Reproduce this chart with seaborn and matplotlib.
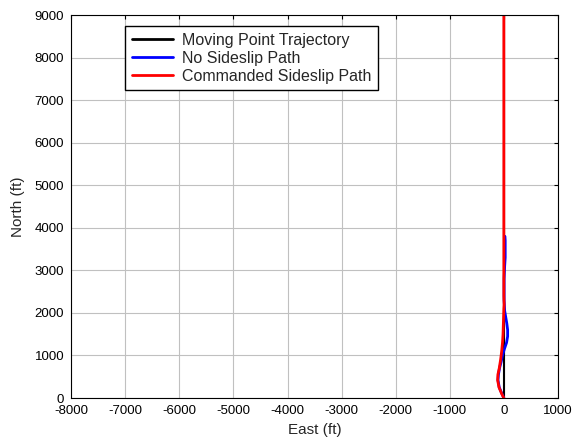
import matplotlib
matplotlib.use("Agg")
import matplotlib.pyplot as plt
import seaborn as sns
import pandas as pd

# Moving point trajectory (straight north along East = 0)
traj_east = [0, 0, 0, 0]
traj_north = [0, 2000, 5000, 9000]

# Path flown with no sideslip
nos_east = [0, -35, -85, -108, -100, -80, -50, -25, 10, 50, 70, 70, 55, 35, 15, 5, 5, 15, 25, 25, 20]
nos_north = [0, 100, 250, 420, 550, 700, 850, 1000, 1150, 1300, 1450, 1600, 1750, 1900, 2050, 2300, 2800, 3100, 3300, 3700, 3800]

# Path flown with commanded sideslip
cmd_east = [0, -40, -90, -115, -110, -85, -60, -40, -25, -15, -10, -5, 0, 5, 0, 0]
cmd_north = [0, 100, 250, 420, 550, 700, 900, 1100, 1300, 1500, 1700, 1900, 2100, 2200, 2400, 9000]

labels = ["Moving Point Trajectory", "No Sideslip Path", "Commanded Sideslip Path"]
colors = ["#000000", "#0000ff", "#ff0000"]

x_ticks = list(range(-8000, 1001, 1000))
y_ticks = list(range(0, 9001, 1000))

sns.set_style("white")
plt.rcParams["font.family"] = ["Liberation Sans", "DejaVu Sans"]

fig = plt.figure(figsize=(5.74, 4.44), dpi=100)
ax = fig.add_axes([0.124, 0.1036, 0.848, 0.8626])

frames = []
for lab, e, n in zip(labels, [traj_east, nos_east, cmd_east], [traj_north, nos_north, cmd_north]):
    frames.append(pd.DataFrame({"East": e, "North": n, "Path": lab}))
df = pd.concat(frames, ignore_index=True)

widths = [1.5, 2.0, 2.0]
for lab, col, lw in zip(labels, colors, widths):
    sub = df[df["Path"] == lab]
    sns.lineplot(data=sub, x="East", y="North", sort=False, estimator=None,
                 color=col, linewidth=lw, label=lab, ax=ax)

ax.set_xlim(-8000, 1000)
ax.set_ylim(0, 9000)
ax.set_xticks(x_ticks)
ax.set_yticks(y_ticks)
ax.set_xticklabels([str(v) for v in x_ticks])
ax.set_yticklabels([str(v) for v in y_ticks])
ax.grid(True, color="#c0c0c0", linewidth=0.8, linestyle="-")
ax.set_axisbelow(True)
ax.tick_params(direction="in", top=True, right=True, length=3, width=0.8,
               labelsize=9.5, colors="black")
ax.tick_params(axis="x", pad=5)
ax.tick_params(axis="y", pad=5)
for s in ax.spines.values():
    s.set_color("black")
    s.set_linewidth(0.8)
ax.set_xlabel("East (ft)", fontsize=11, labelpad=4)
ax.set_ylabel("North (ft)", fontsize=11, labelpad=7)

leg = ax.legend(loc="upper left", bbox_to_anchor=(0.111, 0.971), fontsize=11.5,
                frameon=True, fancybox=False, edgecolor="black", framealpha=1,
                handlelength=2.6, labelspacing=0.2, borderpad=0.4, handletextpad=0.55,
                borderaxespad=0)
leg.get_frame().set_linewidth(1.0)
for line in leg.get_lines():
    line.set_linewidth(2.0)

fig.savefig("out.png", dpi=100)
